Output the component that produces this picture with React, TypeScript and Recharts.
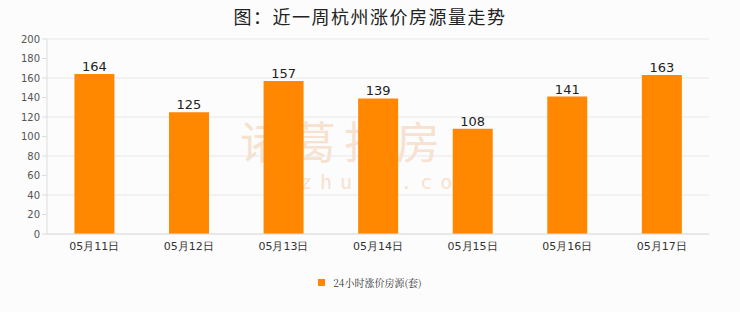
import { Bar, BarChart, CartesianGrid, LabelList, XAxis, YAxis } from 'recharts'

const days = ['05月11日', '05月12日', '05月13日', '05月14日', '05月15日', '05月16日', '05月17日']
const counts = [164, 125, 157, 139, 108, 141, 163]
const yTicks = [0, 20, 40, 60, 80, 100, 120, 140, 160, 180, 200]
const seriesName = '24小时涨价房源(套)'

const data = days.map((day, i) => ({ day, count: counts[i] }))

const App = () => {
    return (
        <div style={{ position: 'fixed', left: 0, top: 0, width: 740, height: 312, background: '#fcfcfc', fontFamily: '"DejaVu Sans", sans-serif' }}>
            <div style={{ position: 'absolute', top: 3, width: 740, textAlign: 'center', fontSize: 18, fontWeight: 400, color: '#222', fontFamily: '"Noto Sans CJK SC", sans-serif', letterSpacing: 1.5 }}>
                图：近一周杭州涨价房源量走势
            </div>
            <div style={{ position: 'absolute', left: 240, top: 108, fontSize: 44, color: '#f6d6bd', fontFamily: '"Noto Sans CJK SC", sans-serif', letterSpacing: 8, opacity: 0.7 }}>
                诸葛找房
            </div>
            <div style={{ position: 'absolute', left: 300, top: 172, fontSize: 20, lineHeight: '20px', color: '#f6d6bd', fontFamily: '"DejaVu Sans Mono", monospace', letterSpacing: 8, opacity: 0.7 }}>
                zhuge.com
            </div>
            <BarChart width={740} height={312} data={data} margin={{ top: 39, right: 31, bottom: 48, left: 0 }} barCategoryGap="29%">
                <CartesianGrid vertical={false} stroke="#e8e8e8" />
                <XAxis
                    dataKey="day"
                    tickLine={false}
                    axisLine={{ stroke: '#ddd' }}
                    tick={{ fontSize: 11, fill: '#333' }}
                    height={30}
                />
                <YAxis
                    domain={[0, 200]}
                    ticks={yTicks}
                    width={47}
                    tickLine={{ stroke: '#ddd' }}
                    tickSize={5}
                    axisLine={{ stroke: '#ddd' }}
                    tick={{ fontSize: 10, fill: '#555' }}
                />
                <YAxis yAxisId="edge" orientation="right" width={0} tick={false} tickLine={false} axisLine={{ stroke: '#ddd' }} />
                <Bar dataKey="count" name={seriesName} fill="#ff8800" isAnimationActive={false}>
                    <LabelList dataKey="count" position="top" offset={3} style={{ fontSize: 13, fill: '#222' }} />
                </Bar>
            </BarChart>
            <div style={{ position: 'absolute', top: 275, left: 0, width: 740, display: 'flex', justifyContent: 'center', alignItems: 'center', fontSize: 10, color: '#333', fontFamily: '"Noto Serif CJK SC", serif' }}>
                <span style={{ display: 'inline-block', width: 7, height: 7, background: '#ff8800', marginRight: 8 }} />
                <span>{seriesName}</span>
            </div>
        </div>
    )
}

export default App
